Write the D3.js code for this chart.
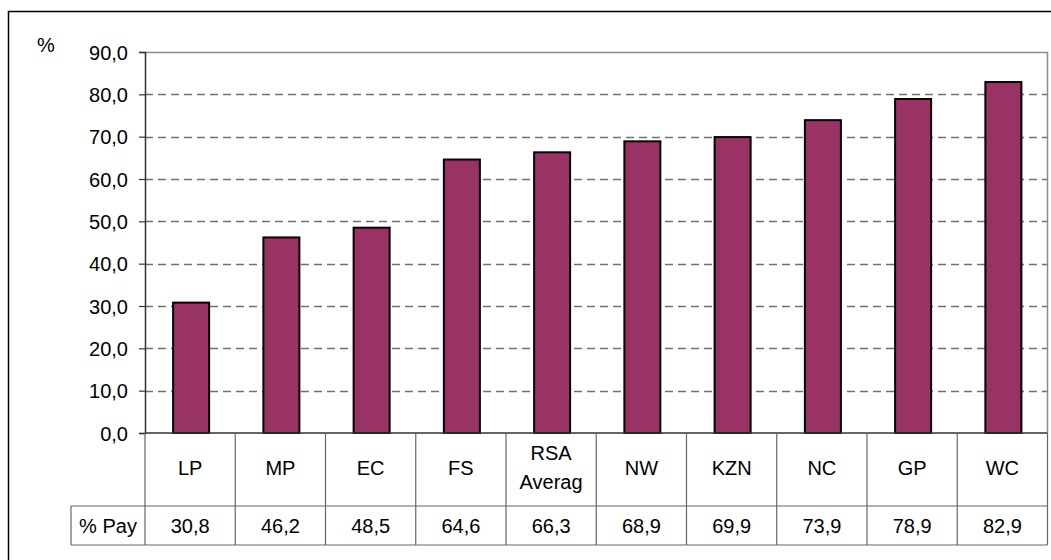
<!DOCTYPE html>
<html><head><meta charset="utf-8">
<script src="https://cdn.jsdelivr.net/npm/d3@7"></script>
<style>body{margin:0;background:#fff}svg{display:block;font-family:"Liberation Sans",Arial,sans-serif}</style>
</head><body><svg id="c" width="1051" height="560"></svg>
<script>
const categories = ["LP","MP","EC","FS","RSA Averag","NW","KZN","NC","GP","WC"];
const values = [30.8,46.2,48.5,64.6,66.3,68.9,69.9,73.9,78.9,82.9];
const yTicks = [0,10,20,30,40,50,60,70,80,90];
const seriesName = "% Pay";
const unitLabel = "%";

const svg = d3.select("#c");
const fmt = v => d3.format(".1f")(v).replace(".", ",");
const L = 145, R = 1047.5, T = 52, B = 433;
const row1 = 506, row2 = 545, tableLeft = 71;
const x = d3.scaleBand().domain(categories).range([L, R]).paddingInner(0).paddingOuter(0);
const y = d3.scaleLinear().domain([0, 90]).range([B, T]);
const fs = 20;

// outer border
svg.append("rect").attr("x", 8.5).attr("y", 11.5).attr("width", 1060).attr("height", 560)
  .attr("fill", "none").attr("stroke", "#000").attr("stroke-width", 1.5);

// gridlines
svg.append("g").selectAll("line").data(yTicks.filter(t => t > 0 && t < 90)).join("line")
  .attr("x1", L).attr("x2", R).attr("y1", d => Math.round(y(d)) + 0.5).attr("y2", d => Math.round(y(d)) + 0.5)
  .attr("stroke", "#707070").attr("stroke-width", 1.3).attr("stroke-dasharray", "8,5");

// plot top/right border
svg.append("path").attr("d", `M${L},${T+0.5}H${R}V${B}`).attr("fill", "none")
  .attr("stroke", "#8c8c8c").attr("stroke-width", 1.5);

// bars
const bw = 36;
svg.append("g").selectAll("rect").data(values).join("rect")
  .attr("x", (d, i) => x(categories[i]) + x.bandwidth() / 2 - bw / 2 + 1)
  .attr("y", d => y(d)).attr("width", bw).attr("height", d => B - y(d))
  .attr("fill", "#993366").attr("stroke", "#000").attr("stroke-width", 2);

// y axis
const ax = d3.axisLeft(y).tickValues(yTicks).tickSize(6).tickFormat(fmt);
const gA = svg.append("g").attr("transform", `translate(${L},0)`).call(ax);
gA.select(".domain").attr("stroke", "#333").attr("stroke-width", 1.5);
gA.selectAll(".tick line").attr("stroke", "#333").attr("stroke-width", 1.2);
gA.selectAll(".tick text").attr("font-size", fs).attr("font-family", "Liberation Sans, Arial").attr("fill", "#000").attr("x", -17).attr("dy", "0.35em");

svg.append("text").attr("x", 46).attr("y", 52).attr("text-anchor", "middle").attr("font-size", fs).text(unitLabel);

// data table
const tg = svg.append("g").attr("stroke", "#666").attr("stroke-width", 1.2);
tg.append("line").attr("x1", L).attr("x2", R).attr("y1", B).attr("y2", B).attr("stroke", "#333").attr("stroke-width", 1.5);
tg.append("line").attr("x1", tableLeft).attr("x2", R).attr("y1", row1).attr("y2", row1);
tg.append("line").attr("x1", tableLeft).attr("x2", R).attr("y1", row2).attr("y2", row2);
tg.append("line").attr("x1", tableLeft).attr("x2", tableLeft).attr("y1", row1).attr("y2", row2);
tg.selectAll("line.v").data(categories).join("line").attr("class", "v")
  .attr("x1", d => x(d)).attr("x2", d => x(d)).attr("y1", B).attr("y2", row2);
tg.append("line").attr("x1", R).attr("x2", R).attr("y1", B).attr("y2", row2);

// category labels
svg.append("g").selectAll("text").data(categories).join("text")
  .attr("x", d => x(d) + x.bandwidth() / 2).attr("text-anchor", "middle").attr("font-size", fs)
  .each(function(d) {
    const parts = d === "RSA Averag" ? ["RSA", "Averag"] : [d];
    const t = d3.select(this);
    const cy = 467.5;
    const lh = 29;
    parts.forEach((p, k) => {
      t.append("tspan").attr("x", x(d) + x.bandwidth() / 2)
        .attr("y", cy + (k - (parts.length - 1) / 2) * lh).attr("dy", "0.35em").text(p);
    });
  });

// values
svg.append("g").selectAll("text").data(values).join("text")
  .attr("x", (d, i) => x(categories[i]) + x.bandwidth() / 2).attr("y", (row1 + row2) / 2).attr("dy", "0.35em")
  .attr("text-anchor", "middle").attr("font-size", fs).text(d => fmt(d));
svg.append("text").attr("x", (tableLeft + L) / 2).attr("y", (row1 + row2) / 2).attr("dy", "0.35em")
  .attr("text-anchor", "middle").attr("font-size", fs).text(seriesName);
</script></body></html>
